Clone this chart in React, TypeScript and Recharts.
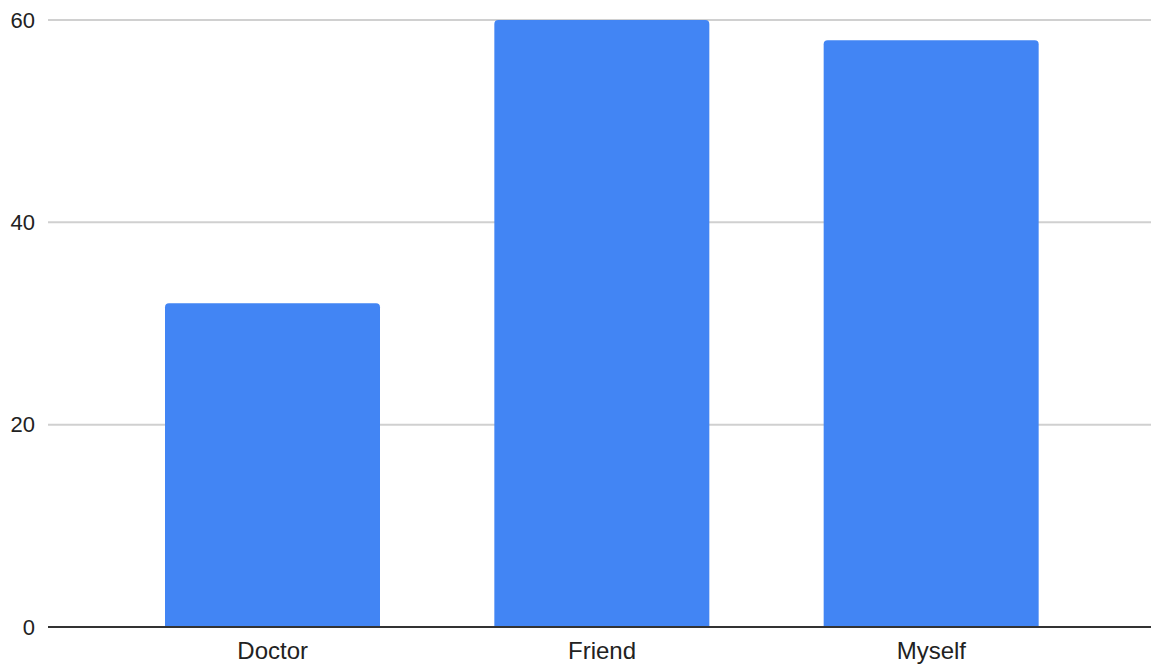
import { Bar, BarChart, CartesianGrid, XAxis, YAxis } from "recharts";

const categories = ["Doctor", "Friend", "Myself"];
const counts = [32, 60, 58];
const yTicks = [0, 20, 40, 60];

const data = categories.map((name, i) => ({ name, count: counts[i] }));

const FONT = "Arial, 'Liberation Sans', sans-serif";

const App = () => {
  return (
    <div style={{ position: "absolute", top: 0, left: 0, background: "#fff" }}>
      <BarChart
        width={1151}
        height={669}
        data={data}
        margin={{ top: 20, right: 0, bottom: 0, left: 0 }}
        barSize={215}
      >
        <CartesianGrid vertical={false} stroke="#d0d0d0" strokeWidth={2} />
        <XAxis
          dataKey="name"
          height={42}
          padding={{ left: 60, right: 55 }}
          axisLine={{ stroke: "#333", strokeWidth: 2 }}
          tickLine={false}
          tickMargin={9}
          tick={{ fill: "#222", fontSize: 24, fontFamily: FONT }}
        />
        <YAxis
          width={48}
          domain={[0, 60]}
          ticks={yTicks}
          axisLine={false}
          tickLine={false}
          tickMargin={7}
          tick={{ fill: "#222", fontSize: 22, fontFamily: FONT }}
        />
        <Bar
          dataKey="count"
          fill="#4285F4"
          radius={[4, 4, 0, 0]}
          isAnimationActive={false}
        />
      </BarChart>
    </div>
  );
};

export default App;
